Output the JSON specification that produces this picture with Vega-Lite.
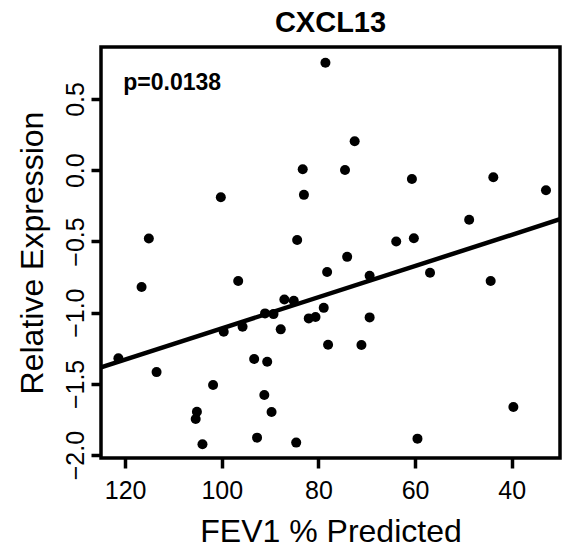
{
  "$schema": "https://vega.github.io/schema/vega-lite/v6.json",
  "autosize": "none",
  "width": 459,
  "height": 411,
  "padding": {"left": 101, "top": 47, "right": 5, "bottom": 90},
  "background": "white",
  "title": {"text": "CXCL13", "font": "Liberation Sans", "fontSize": 29, "fontWeight": "bold", "color": "black", "anchor": "middle", "baseline": "bottom", "offset": 9, "dy": 29},
  "config": {
    "view": {"stroke": "black", "strokeWidth": 3.5},
    "axis": {"domain": false, "grid": false, "tickColor": "black", "tickWidth": 3.5, "tickSize": 10, "labelFont": "Liberation Sans", "labelFontSize": 25, "labelColor": "black", "titleFont": "Liberation Sans", "titleFontSize": 32, "titleFontWeight": "normal", "titleColor": "black"}
  },
  "datasets": {
    "pts": [
      {"fev1": 83.25, "expr": 0.007},
      {"fev1": 83.0, "expr": -0.173},
      {"fev1": 100.2, "expr": -0.19},
      {"fev1": 115.1, "expr": -0.479},
      {"fev1": 84.4, "expr": -0.49},
      {"fev1": 78.55, "expr": 0.755},
      {"fev1": 72.5, "expr": 0.203},
      {"fev1": 74.5, "expr": 0.002},
      {"fev1": 60.65, "expr": -0.061},
      {"fev1": 43.8, "expr": -0.049},
      {"fev1": 32.9, "expr": -0.14},
      {"fev1": 48.8, "expr": -0.348},
      {"fev1": 63.9, "expr": -0.5},
      {"fev1": 60.25, "expr": -0.477},
      {"fev1": 74.05, "expr": -0.608},
      {"fev1": 78.2, "expr": -0.715},
      {"fev1": 69.4, "expr": -0.741},
      {"fev1": 56.9, "expr": -0.72},
      {"fev1": 44.35, "expr": -0.778},
      {"fev1": 78.9, "expr": -0.966},
      {"fev1": 82.0, "expr": -1.04},
      {"fev1": 80.6, "expr": -1.03},
      {"fev1": 69.4, "expr": -1.033},
      {"fev1": 78.0, "expr": -1.225},
      {"fev1": 71.1, "expr": -1.227},
      {"fev1": 84.6, "expr": -1.912},
      {"fev1": 59.5, "expr": -1.884},
      {"fev1": 39.65, "expr": -1.662},
      {"fev1": 116.6, "expr": -0.82},
      {"fev1": 96.6, "expr": -0.778},
      {"fev1": 121.4, "expr": -1.32},
      {"fev1": 113.5, "expr": -1.417},
      {"fev1": 99.6, "expr": -1.134},
      {"fev1": 95.7, "expr": -1.099},
      {"fev1": 91.05, "expr": -1.005},
      {"fev1": 89.3, "expr": -1.01},
      {"fev1": 87.8, "expr": -1.117},
      {"fev1": 87.05, "expr": -0.907},
      {"fev1": 85.1, "expr": -0.916},
      {"fev1": 93.3, "expr": -1.325},
      {"fev1": 90.6, "expr": -1.344},
      {"fev1": 101.8, "expr": -1.508},
      {"fev1": 105.15, "expr": -1.695},
      {"fev1": 105.4, "expr": -1.746},
      {"fev1": 91.2, "expr": -1.578},
      {"fev1": 89.7, "expr": -1.697},
      {"fev1": 92.7, "expr": -1.877},
      {"fev1": 104.0, "expr": -1.924}
    ],
    "fit": [
      {"fev1": 125, "expr": -1.384},
      {"fev1": 30, "expr": -0.344}
    ],
    "note": [
      {"fev1": 120.4, "expr": 0.561, "label": "p=0.0138"}
    ]
  },
  "encoding": {
    "x": {"field": "fev1", "type": "quantitative", "title": "FEV1 % Predicted",
      "scale": {"domain": [30, 125], "reverse": true, "nice": false, "zero": false},
      "axis": {"values": [120, 100, 80, 60, 40], "labelPadding": 10, "labelBaseline": "top", "titleY": 83, "titleBaseline": "alphabetic"}},
    "y": {"field": "expr", "type": "quantitative", "title": "Relative Expression",
      "scale": {"domain": [-2.02, 0.865], "nice": false, "zero": false},
      "axis": {"values": [-2, -1.5, -1, -0.5, 0, 0.5], "format": ".1f", "labelAngle": -90, "labelAlign": "center", "labelBaseline": "alphabetic", "labelPadding": 8, "titleX": -59, "titleY": 205.5, "titleAngle": -90, "titleAlign": "center", "titleBaseline": "alphabetic"}}
  },
  "layer": [
    {"data": {"name": "pts"}, "mark": {"type": "circle", "size": 100, "color": "black", "opacity": 1}},
    {"data": {"name": "fit"}, "mark": {"type": "line", "color": "black", "strokeWidth": 4.5, "clip": true}},
    {"data": {"name": "note"}, "mark": {"type": "text", "align": "left", "baseline": "alphabetic", "font": "Liberation Sans", "fontSize": 23, "fontWeight": "bold", "color": "black"}, "encoding": {"text": {"field": "label"}}}
  ]
}
